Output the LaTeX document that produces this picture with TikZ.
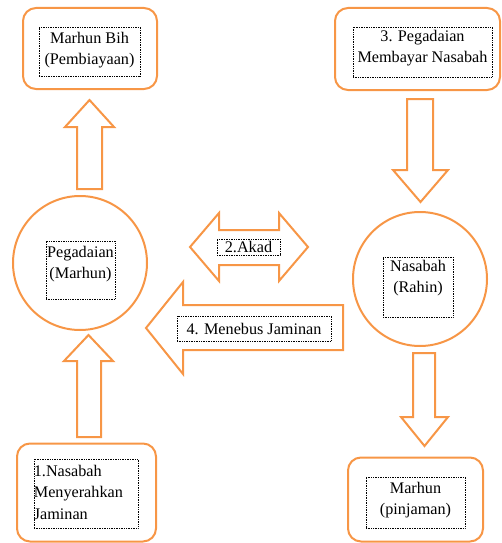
\documentclass[tikz,border=0pt]{standalone}
\usepackage{fontspec}
\setmainfont{Liberation Serif}
\definecolor{orng}{RGB}{247,150,70}
\begin{document}
\begin{tikzpicture}[x=1pt,y=-1pt,
  outer/.style={draw=orng,line width=2pt,rounded corners=13pt},
  circ/.style={draw=orng,line width=2pt,circle,inner sep=0pt},
  dotbox/.style={draw=black,line width=0.7pt,dash pattern=on 0.8pt off 0.9pt,inner sep=0pt},
  txt/.style={font=\fontsize{16.2}{21.5}\selectfont,align=center,inner sep=0pt},
  barrow/.style={draw=orng,line width=2pt,fill=white,line join=miter}]
\useasboundingbox (0,0) rectangle (502,543);
% outer boxes
\node[outer,minimum width=134pt,minimum height=81pt] (boxA) at (90,48.5) {};
\node[outer,minimum width=165pt,minimum height=82pt] (boxB) at (417.5,49) {};
\node[outer,minimum width=139pt,minimum height=98pt] (boxC) at (86.5,492.5) {};
\node[outer,minimum width=135pt,minimum height=84pt] (boxD) at (415.5,499.5) {};
% circles
\node[circ,minimum size=134pt] (cL) at (80,263) {};
\node[circ,minimum size=134pt] (cR) at (420,279) {};
% block arrows
\draw[barrow] (77,189) -- (77,127) -- (65,127) -- (89.5,100) -- (114,127) -- (102,127) -- (102,189) -- cycle;
\draw[barrow] (407,99) -- (407,170) -- (393,170) -- (420.5,202) -- (448,170) -- (433,170) -- (433,99) -- cycle;
\draw[barrow] (77,437) -- (77,361) -- (64,361) -- (88.5,335) -- (113,361) -- (101,361) -- (101,437) -- cycle;
\draw[barrow] (413,353) -- (413,417) -- (401,417) -- (424.5,446) -- (448,417) -- (435,417) -- (435,353) -- cycle;
\draw[barrow] (343,305) -- (183,305) -- (183,282) -- (146,328) -- (183,374) -- (183,350) -- (343,350) -- cycle;
\draw[barrow] (190,247) -- (219,213) -- (219,230) -- (279,230) -- (279,213) -- (308,247) -- (279,281) -- (279,265) -- (219,265) -- (219,281) -- cycle;
% dotted text frames
\node[dotbox,minimum width=101pt,minimum height=49pt] (dA) at (89.5,51.5) {};
\node[txt,anchor=north] (tA) at ([yshift=-5pt]dA.north) {Marhun Bih\\(Pembiayaan)};
\node[dotbox,minimum width=139pt,minimum height=50pt] (dB) at (422.5,52) {};
\node[txt,anchor=north] (tB) at ([yshift=-3pt]dB.north) {3. Pegadaian\\Membayar Nasabah};
\node[dotbox,minimum width=69pt,minimum height=58pt] (dL) at (80.5,270) {};
\node[txt,anchor=north] (tL) at ([yshift=-5pt]dL.north) {Pegadaian\\(Marhun)};
\node[dotbox,minimum width=70pt,minimum height=60pt] (dR) at (418,287) {};
\node[txt,anchor=north] (tR) at ([yshift=-3pt]dR.north) {Nasabah\\(Rahin)};
\node[dotbox,minimum width=104pt,minimum height=69pt] (dC) at (86,493.5) {};
\node[txt,align=left,anchor=north west] (tC) at ([yshift=-6pt]dC.north west) {1.Nasabah\\Menyerahkan\\Jaminan};
\node[dotbox,minimum width=99pt,minimum height=51pt] (dD) at (415.5,502.5) {};
\node[txt,anchor=north] (tD) at ([yshift=-5pt]dD.north) {Marhun\\(pinjaman)};
\node[dotbox,minimum width=154pt,minimum height=25pt] (dM) at (254,328.5) {};
\node[txt] (tM) at (dM) {4. Menebus Jaminan};
\node[dotbox,minimum width=63pt,minimum height=16pt] (dK) at (248.5,247) {};
\node[txt] (tK) at (dK) {2.Akad};
\end{tikzpicture}
\end{document}
